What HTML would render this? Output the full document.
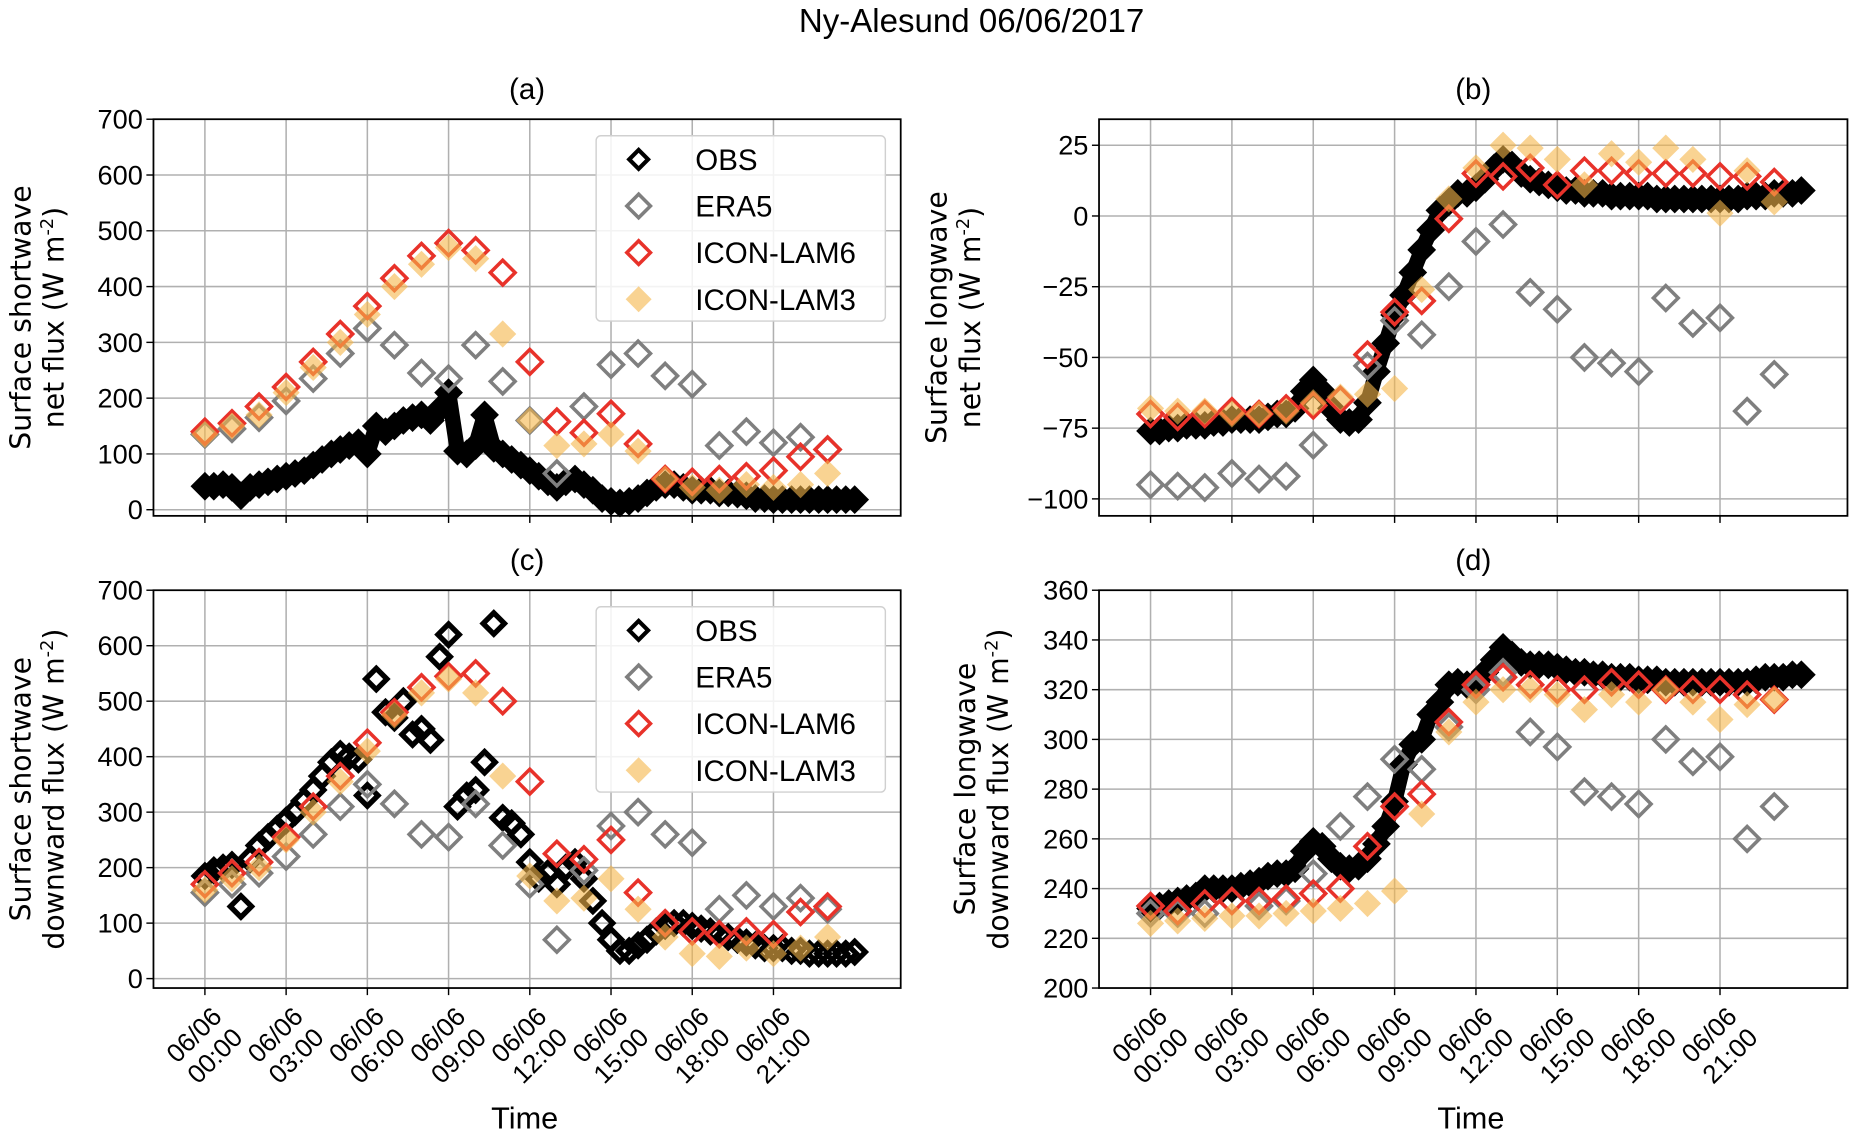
<!DOCTYPE html>
<html><head><meta charset="utf-8"><style>
html,body{margin:0;padding:0;background:#fff;}
svg{display:block;font-family:"DejaVu Sans","Liberation Sans",sans-serif;}
.tk{font-family:"Liberation Sans Narrow","Liberation Sans",sans-serif;}
</style></head><body>
<svg id="fig" width="1851" height="1135" viewBox="0 0 1568 961.5" preserveAspectRatio="none" xmlns="http://www.w3.org/2000/svg">
<text x="823" y="27" font-size="28" text-anchor="middle" class="tk">Ny-Alesund 06/06/2017</text>
<g id="root"></g>
</svg>
<script>
// ---- data (hours since 06/06 00:00) ----
const modelHours=[0,1,2,3,4,5,6,7,8,9,10,11,12,13,14,15,16,17,18,19,20,21,22,23];
const obsHours=[0,0.33,0.67,1,1.33,1.67,2,2.33,2.67,3,3.33,3.67,4,4.33,4.67,5,5.33,5.67,6,6.33,6.67,7,7.33,7.67,8,8.33,8.67,9,9.33,9.67,10,10.33,10.67,11,11.33,11.67,12,12.33,12.67,13,13.33,13.67,14,14.33,14.67,15,15.33,15.67,16,16.33,16.67,17,17.33,17.67,18,18.33,18.67,19,19.33,19.67,20,20.33,20.67,21,21.33,21.67,22,22.33,22.67,23,23.33,23.67,24];
const xTickHours=[0,3,6,9,12,15,18,21];
const xTickLabels=["06/06\n00:00","06/06\n03:00","06/06\n06:00","06/06\n09:00","06/06\n12:00","06/06\n15:00","06/06\n18:00","06/06\n21:00"];

// (a) SW net
const obsA=[42,42,45,40,25,40,45,50,55,60,65,70,80,90,100,108,115,120,100,150,140,150,160,165,170,160,180,210,105,100,115,170,110,100,90,80,70,60,50,40,50,55,45,35,20,15,12,15,20,30,40,45,45,40,35,35,35,30,30,28,25,20,20,18,18,18,18,18,18,18,18,18,18];
const eraA=[135,145,165,195,235,280,325,295,245,235,295,230,160,65,185,260,280,240,225,115,140,120,130,108];
const lam6A=[140,155,185,220,265,315,365,415,455,478,465,425,265,158,138,172,118,55,50,55,60,70,95,108];
const lam3A=[135,150,170,210,255,300,350,400,440,470,450,315,160,115,118,135,105,55,40,35,45,40,45,65];
const yTicksA=[0,100,200,300,400,500,600,700];

// (b) LW net
const obsB=[-76,-76,-75,-75,-74,-74,-74,-73,-73,-72,-72,-72,-72,-71,-70,-70,-68,-62,-58,-62,-68,-72,-73,-72,-66,-55,-45,-35,-28,-20,-12,-5,2,5,8,8,10,13,17,20,18,15,13,12,11,10,9,9,8,8,8,7,7,7,7,7,6,6,6,6,6,6,6,6,6,6,7,7,7,8,8,8,9,9];
const eraB=[-95,-95.5,-96,-91,-93,-92,-81,-65,-53,-37,-42,-25,-9,-3,-27,-33,-50,-52,-55,-29,-38,-36,-69,-56];
const lam6B=[-70,-71,-70,-69,-70,-68,-67,-65,-49,-34,-30,-1,15,14,17,11,16,16,15,15,15,14,14,12];
const lam3B=[-68,-69,-69,-70,-70,-69,-66,-64,-63,-61,-26,6,17,25,24,20,11,22,19,24,20,1,16,5];
const yTicksB=[-100,-75,-50,-25,0,25];

// (c) SW down
const obsC=[185,195,200,205,130,215,240,255,270,285,300,320,340,365,390,405,400,395,330,540,480,470,500,440,450,430,580,620,310,330,340,390,640,290,280,260,210,180,190,170,200,210,180,140,100,70,50,50,60,70,85,95,100,100,95,90,85,80,75,70,65,60,55,55,55,50,50,45,45,45,45,45,48];
const eraC=[155,170,190,220,260,310,350,315,260,255,315,240,170,70,195,275,300,260,245,125,150,130,145,125];
const lam6C=[170,190,210,255,310,365,425,480,525,545,550,500,355,225,215,250,155,100,85,80,85,80,120,130];
const lam3C=[160,180,200,250,300,355,410,475,515,540,515,365,185,140,145,180,125,75,45,40,55,45,55,75];
const yTicksC=[0,100,200,300,400,500,600,700];

// (d) LW down
const obsD=[232,233,234,235,236,237,240,240,240,240,241,242,243,245,246,246,248,255,259,257,252,249,248,249,252,258,265,275,290,298,300,310,315,322,323,322,323,327,332,337,334,331,330,330,330,329,328,327,327,326,326,325,325,325,324,324,324,323,323,323,323,323,323,323,323,323,323,324,325,325,325,326,326];
const eraD=[230,230,230,235,233,235,246,265,277,292,288,305,320,327,303,297,279,277,274,300,291,293,260,273];
const lam6D=[233,231,234,235,235,236,238,240,257,273,278,307,322,325,322,320,320,323,322,320,320,320,318,316];
const lam3D=[226,227,228,229,229,230,231,232,234,239,270,303,315,320,320,318,312,318,315,320,315,308,314,316];
const yTicksD=[200,220,240,260,280,300,320,340,360];

const NS="http://www.w3.org/2000/svg";
const root=document.getElementById('root');
function mk(tag,attrs,parent){const e=document.createElementNS(NS,tag);for(const k in attrs)e.setAttribute(k,attrs[k]);(parent||root).appendChild(e);return e;}

function panel(cfg){
  const g=mk('g',{});
  
  
  const L=cfg.L,R=cfg.R,T=cfg.T,B=cfg.B;
  const x0=-1.9,x1=25.7;
  const sx=h=>L+(h-x0)/(x1-x0)*(R-L);
  const sy=v=>B-(v-cfg.ymin)/(cfg.ymax-cfg.ymin)*(B-T);
  cfg.yTicks.forEach(v=>{
    const ln=mk('line',{x1:L,x2:R,y1:sy(v),y2:sy(v),stroke:'#b0b0b0','stroke-width':1.3},g);
    
    
    const t=mk('text',{x:L-9,y:sy(v)+8,'font-size':23,'text-anchor':'end',class:'tk'},g);
    t.textContent=(v<0?'\u2212'+(-v):v);
    
    
    mk('line',{x1:L-6,x2:L,y1:sy(v),y2:sy(v),stroke:'#000','stroke-width':1.2},g);
  });
  xTickHours.forEach((h,i)=>{
    const ln=mk('line',{x1:sx(h),x2:sx(h),y1:T,y2:B,stroke:'#b0b0b0','stroke-width':1.3},g);
    
    
    mk('line',{x1:sx(h),x2:sx(h),y1:B,y2:B+6,stroke:'#000','stroke-width':1.2},g);
    if(cfg.xlabels){
      const lines=xTickLabels[i].split('\n');
      const t=mk('text',{transform:`translate(${sx(h)+12},${B+22}) rotate(-45)`,'font-size':22,'text-anchor':'end',class:'tk'},g);
      
      
      lines.forEach((s,j)=>{const ts=mk('tspan',{x:0,y:j*25+5},t);ts.textContent=s;});
    }
  });
  const diamond=(x,y,r)=>`M${x},${y-r}L${x+r},${y}L${x},${y+r}L${x-r},${y}Z`;
  const series=(hours,vals,name,stroke,fill,op,r,sw)=>{
    const sg=mk('g',{},g);
    
    
    vals.forEach((v,i)=>{
      const p=mk('path',{d:diamond(sx(hours[i]),sy(v),r),stroke:stroke,fill:fill,'stroke-width':sw,'fill-opacity':op},sg);
      
      
    });
  };
  if(cfg.band){
    const pl=mk('polyline',{points:cfg.obs.map((v,i)=>sx(obsHours[i])+','+sy(v)).join(' '),fill:'none',stroke:'#000','stroke-width':13,'stroke-linejoin':'round','stroke-linecap':'round'},g);
    
    
  }
  series(obsHours,cfg.obs,'obs','#000','none',1,9,4.5);
  series(modelHours,cfg.era,'era5','#7f7f7f','none',1,10.5,3);
  series(modelHours,cfg.lam6,'icon-lam6','#e8322a','none',1,10.5,3);
  series(modelHours,cfg.lam3,'icon-lam3','none','#f5b54a',0.6,11.5,0);
  mk('rect',{x:L,y:T,width:R-L,height:B-T,fill:'none',stroke:'#000','stroke-width':1.5},g);
  const tt=mk('text',{x:(L+R)/2,y:T-17,'font-size':25,'text-anchor':'middle',class:'tk'},g);
  tt.textContent='('+cfg.id+')';
  
  
  const yl=mk('text',{transform:`translate(${cfg.ylx},${(T+B)/2}) rotate(-90)`,'font-size':24,'text-anchor':'middle'},g);
  
  
  const t1=mk('tspan',{x:0,y:0},yl);t1.textContent=cfg.yl1;
  const t2=mk('tspan',{x:0,y:28},yl);t2.textContent=cfg.yl2+' (W m';
  const t3=mk('tspan',{dy:-9,'font-size':15},yl);t3.textContent='-2';
  const t4=mk('tspan',{dy:9},yl);t4.textContent=')';
  if(cfg.xlabels){
    const xt=mk('text',{x:(L+R)/2-2,y:956,'font-size':26,'text-anchor':'middle',class:'tk'},g);
    xt.textContent='Time';
    
    
  }
  if(cfg.legend){
    const lg=mk('g',{},g);
    
    
    const ly=T+14;
    mk('rect',{x:505,y:ly,width:245,height:157,rx:4,fill:'#fff','fill-opacity':0.85,stroke:'#d0d0d0','stroke-width':1.2},lg);
    const items=[['OBS','#000','none',1,8,3.5],['ERA5','#7f7f7f','none',1,10,3],['ICON-LAM6','#e8322a','none',1,10,3],['ICON-LAM3','none','#f5b54a',0.6,11,0]];
    items.forEach((it,i)=>{
      const yy=ly+20+i*39.5;
      const e=mk('g',{},lg);
      
      
      mk('path',{d:diamond(541,yy,it[4]),stroke:it[1],fill:it[2],'fill-opacity':it[3],'stroke-width':it[5]},e);
      const t=mk('text',{x:589,y:yy+9,'font-size':25,class:'tk'},e);t.textContent=it[0];
    });
  }
}
panel({id:'a',L:130,R:763,T:101,B:437,ymin:-11,ymax:700,yTicks:yTicksA,obs:obsA,era:eraA,lam6:lam6A,lam3:lam3A,ylx:26,yl1:'Surface shortwave',yl2:'net flux',legend:true,xlabels:false,band:true});
panel({id:'b',L:931,R:1565,T:101,B:437,ymin:-106,ymax:34.2,yTicks:yTicksB,obs:obsB,era:eraB,lam6:lam6B,lam3:lam3B,ylx:802,yl1:'Surface longwave',yl2:'net flux',legend:false,xlabels:false,band:true});
panel({id:'c',L:130,R:763,T:500,B:837,ymin:-17,ymax:700,yTicks:yTicksC,obs:obsC,era:eraC,lam6:lam6C,lam3:lam3C,ylx:26,yl1:'Surface shortwave',yl2:'downward flux',legend:true,xlabels:true,band:false});
panel({id:'d',L:931,R:1565,T:500,B:837,ymin:200,ymax:360,yTicks:yTicksD,obs:obsD,era:eraD,lam6:lam6D,lam3:lam3D,ylx:826,yl1:'Surface longwave',yl2:'downward flux',legend:false,xlabels:true,band:true});
</script>
</body></html>
